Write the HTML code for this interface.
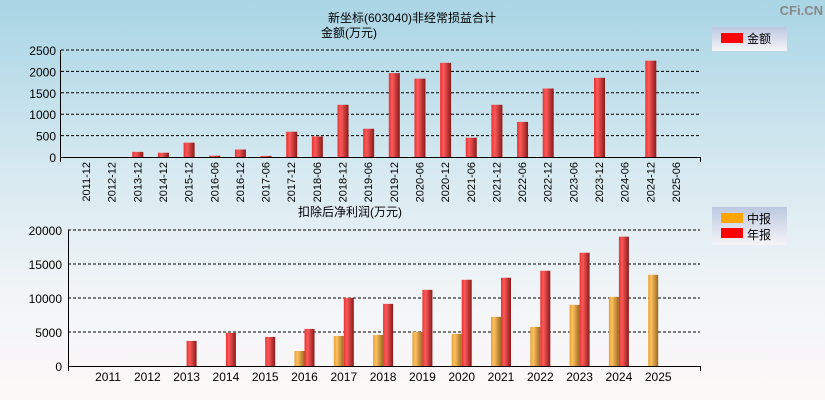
<!DOCTYPE html>
<html><head><meta charset="utf-8"><style>
body{margin:0;width:825px;height:400px;overflow:hidden;background:linear-gradient(#a9d5e5,#d9eaf1 45%,#f2f5f7 75%,#fdf8f8);font-family:"Liberation Sans","Noto Sans CJK SC",sans-serif;}
svg{position:absolute;left:0;top:0}
</style></head><body>
<svg width="825" height="400">
<defs>
<linearGradient id="gr" x1="0" x2="1"><stop offset="0" stop-color="#e83030"/><stop offset="0.3" stop-color="#ff5a5a"/><stop offset="1" stop-color="#8a1a1a"/></linearGradient>
<linearGradient id="go" x1="0" x2="1"><stop offset="0" stop-color="#e8a030"/><stop offset="0.3" stop-color="#ffc060"/><stop offset="1" stop-color="#9a6a20"/></linearGradient>
<linearGradient id="lg" x1="0" x2="0" y1="0" y2="1"><stop offset="0" stop-color="#bcc8e0"/><stop offset="1" stop-color="#f6f4f8"/></linearGradient>
</defs>
<text x="823" y="15" font-size="13" font-weight="bold" fill="#888" text-anchor="end">CFi.CN</text>
<text x="412" y="22" font-size="12" text-anchor="middle">新坐标(603040)非经常损益合计</text>
<text x="349" y="37" font-size="12" text-anchor="middle">金额(万元)</text>
<text x="350" y="216" font-size="12" text-anchor="middle">扣除后净利润(万元)</text>
<g><rect x="712" y="27" width="75" height="24" fill="url(#lg)"/><rect x="721" y="33" width="22" height="10" fill="#f00"/><text x="747" y="43" font-size="12">金额</text></g>
<g><rect x="712" y="207" width="75" height="38" fill="url(#lg)"/><rect x="721" y="213" width="22" height="10" fill="#ffa500"/><text x="747" y="223" font-size="12">中报</text><rect x="721" y="228" width="22" height="10" fill="#f00"/><text x="747" y="239" font-size="12">年报</text></g>
<g id="c1"></g><g id="c2"></g>
</svg>
<script>
const cats1=["2011-12","2012-12","2013-12","2014-12","2015-12","2016-06","2016-12","2017-06","2017-12","2018-06","2018-12","2019-06","2019-12","2020-06","2020-12","2021-06","2021-12","2022-06","2022-12","2023-06","2023-12","2024-06","2024-12","2025-06"];
const vals1=[0,0,120,100,335,30,175,25,590,480,1220,660,1960,1830,2200,450,1220,820,1600,0,1850,0,2250,0];
const ticks1=[0,500,1000,1500,2000,2500];
const years2=["2011","2012","2013","2014","2015","2016","2017","2018","2019","2020","2021","2022","2023","2024","2025"];
const mid2=[0,0,0,0,0,2210,4420,4570,5010,4720,7225,5750,8990,10170,13415];
const ann2=[0,0,3685,4865,4275,5455,10025,9140,11200,12680,12975,14005,16660,19020,0];
const ticks2=[0,5000,10000,15000,20000];
const NS="http://www.w3.org/2000/svg";
function mk(p,t,a){const e=document.createElementNS(NS,t);for(const k in a)e.setAttribute(k,a[k]);p.appendChild(e);return e;}
const g1=document.getElementById('c1');
const y1=v=>157-v/2500*107, x1=i=>86+i*25.65;
ticks1.forEach(t=>{
 if(t>0){const l=mk(g1,'line',{x1:61,x2:700,y1:y1(t),y2:y1(t),stroke:'#000','stroke-dasharray':'3,2'});
 
 }
 const tx=mk(g1,'text',{x:56,y:y1(t)+5,'font-size':12,'text-anchor':'end'});tx.textContent=t;
 
 
});
mk(g1,'line',{x1:60.5,x2:60.5,y1:50,y2:162,stroke:'#000'});
mk(g1,'line',{x1:60,x2:700,y1:157.5,y2:157.5,stroke:'#000'});
mk(g1,'line',{x1:700.5,x2:700.5,y1:157,y2:162,stroke:'#000'});
cats1.forEach((c,i)=>{
 const x=x1(i);
 if(vals1[i]>0){const r=mk(g1,'rect',{x:x-5,y:y1(vals1[i]),width:11,height:157-y1(vals1[i]),fill:'url(#gr)'});
 
 }
 const t=mk(g1,'text',{x:0,y:0,'font-size':11,'text-anchor':'end',transform:`translate(${x+4},162) rotate(-90)`});t.textContent=c;
 
 
});
const g2=document.getElementById('c2');
const y2=v=>366-v/20000*136, x2=i=>108+i*39.3;
ticks2.forEach(t=>{
 if(t>0){const l=mk(g2,'line',{x1:68,x2:700,y1:y2(t),y2:y2(t),stroke:'#000','stroke-dasharray':'3,2'});
 
 }
 const tx=mk(g2,'text',{x:62,y:y2(t)+5,'font-size':12,'text-anchor':'end'});tx.textContent=t;
 
 
});
mk(g2,'line',{x1:68.5,x2:68.5,y1:230,y2:371,stroke:'#000'});
mk(g2,'line',{x1:68,x2:700,y1:366.5,y2:366.5,stroke:'#000'});
mk(g2,'line',{x1:700.5,x2:700.5,y1:366,y2:371,stroke:'#000'});
years2.forEach((yr,i)=>{
 const x=x2(i);
 if(mid2[i]>0){const r=mk(g2,'rect',{x:x-10,y:y2(mid2[i]),width:10,height:366-y2(mid2[i]),fill:'url(#go)'});
 
 }
 if(ann2[i]>0){const r=mk(g2,'rect',{x:x,y:y2(ann2[i]),width:10,height:366-y2(ann2[i]),fill:'url(#gr)'});
 
 }
 const t=mk(g2,'text',{x:x,y:381,'font-size':12,'text-anchor':'middle'});t.textContent=yr;
 
 
});
</script>
</body></html>
